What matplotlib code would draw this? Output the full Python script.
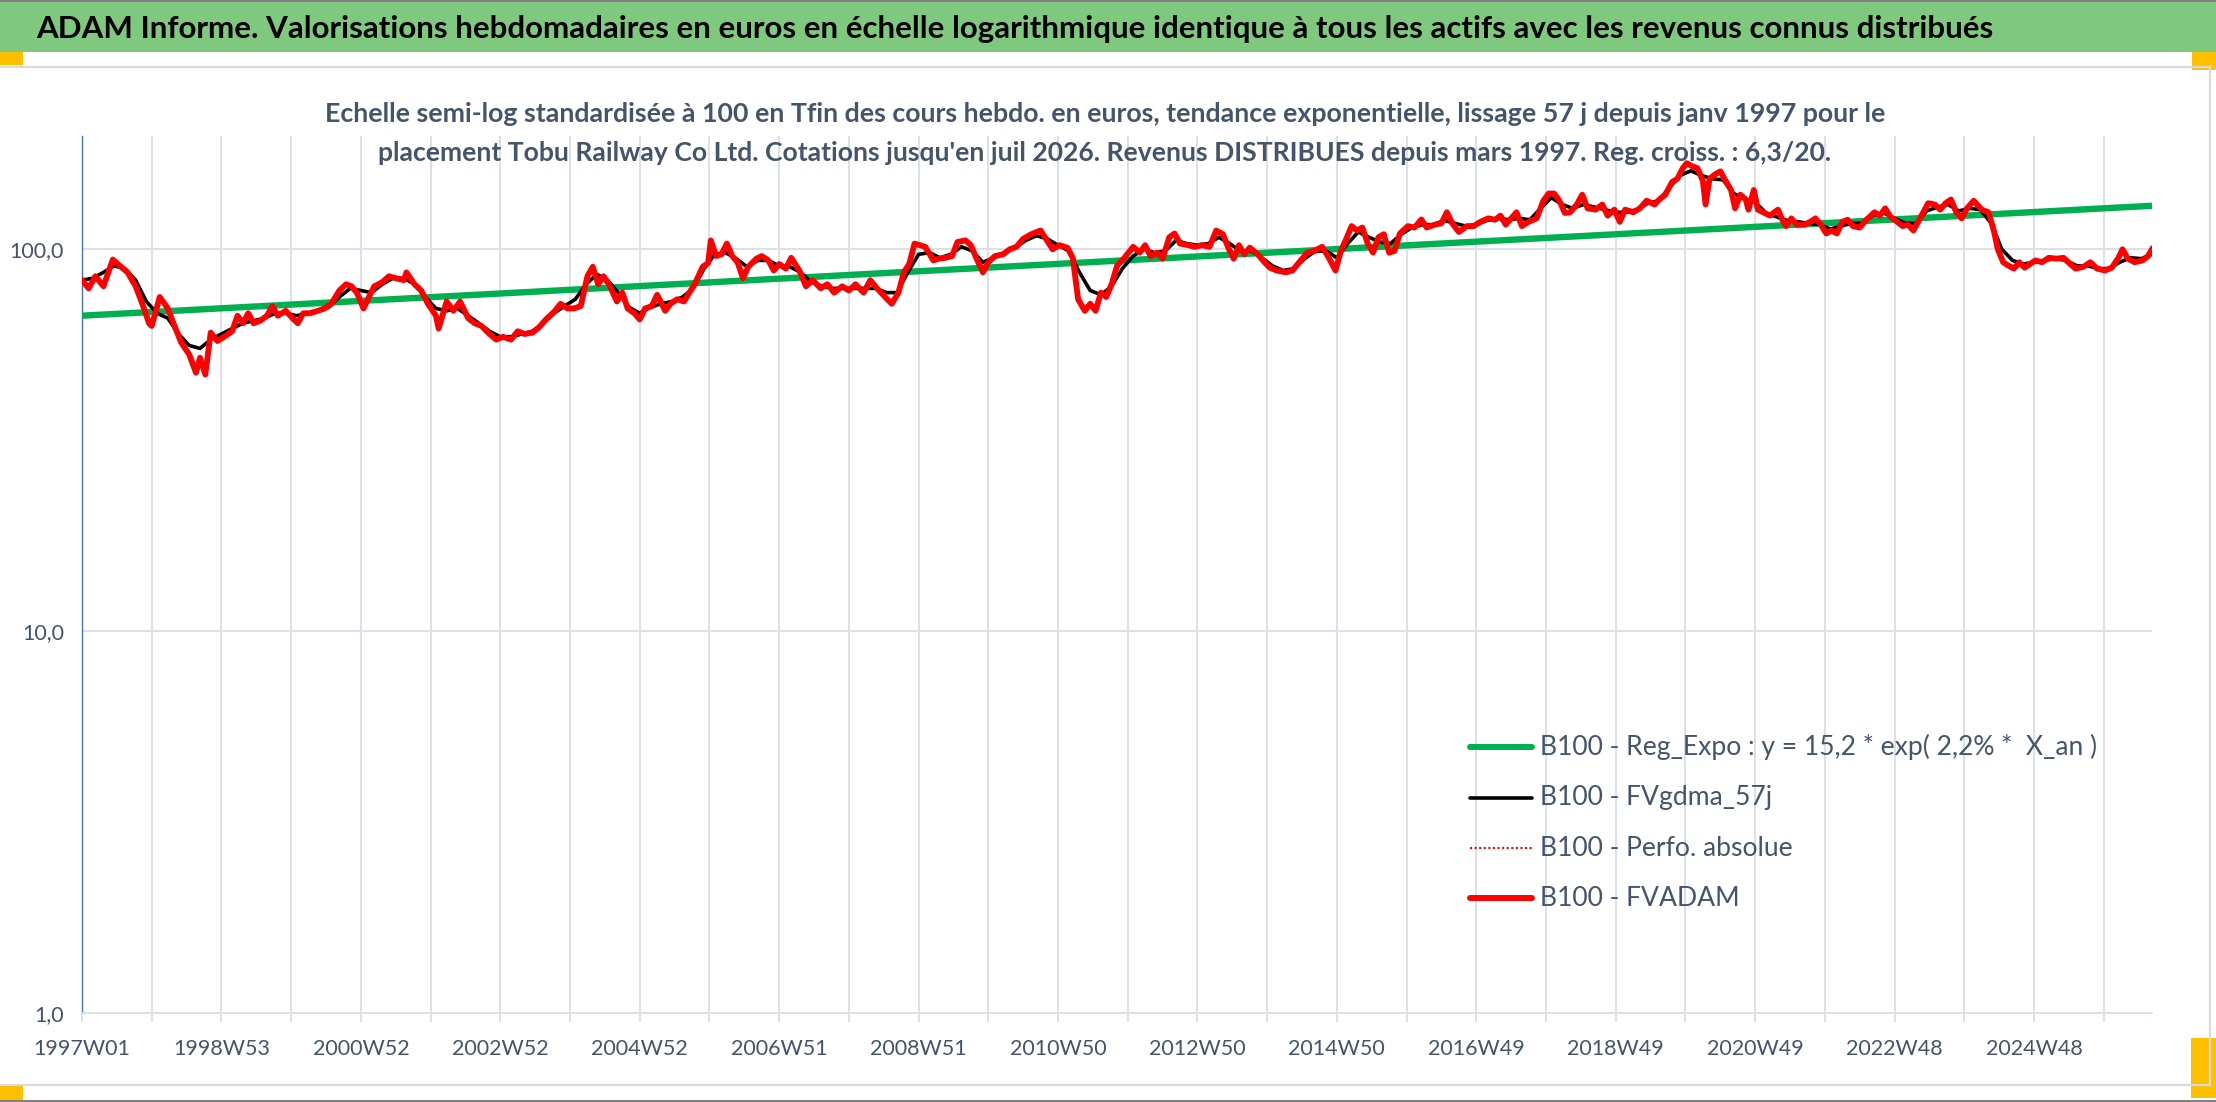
import numpy as np
import matplotlib
matplotlib.use("Agg")
import matplotlib.pyplot as plt
from matplotlib.patches import Rectangle
from matplotlib.ticker import NullLocator

# ---------------- data (x = week index since 1997W01) ----------------
tick_labels = ["1997W01", "1998W53", "2000W52", "2002W52", "2004W52", "2006W51",
               "2008W51", "2010W50", "2012W50", "2014W50", "2016W49", "2018W49",
               "2020W49", "2022W48", "2024W48"]
n_weeks_last = 1544

# Reg_Expo: y = 15,2 * exp(2,2% * X_an) -> values at the first and last week
reg_weeks = [0, 1544]
reg_vals = [67.0, 130.0]

# FVADAM (red)
fv_weeks_a = [0, 5, 10, 16, 23, 29, 34, 40, 45, 50,
              52, 58, 64, 69, 74, 80, 85, 88, 92, 96,
              101, 106, 112, 116, 120, 124, 128, 133, 138, 142,
              146, 152, 157, 161, 165, 170, 176, 181, 186, 192,
              197, 201, 205, 210, 214, 218, 224, 229, 234, 240,
              242, 248, 253, 258, 264, 266, 272, 277, 282, 288,
              293, 298, 304, 309, 314, 320, 325, 330, 336, 341,
              346, 352, 357, 362, 367, 372, 377, 381]
fv_vals_a = [83, 79, 85, 80, 94, 90, 87, 80, 72, 64,
             63, 75, 70, 63, 57, 53, 47.5, 52, 47, 60.5,
             57.5, 59, 61, 67, 64, 68, 64, 65, 67, 71,
             67, 69, 66, 64, 68, 68, 69, 70, 72, 78,
             81, 80, 77, 70, 75, 80, 82, 85, 84, 83,
             87, 81, 78, 72, 67, 62, 73, 69, 73, 66,
             64, 63, 60, 58, 59, 58, 61, 60, 60.5, 62.5,
             65.5, 68.5, 72, 70, 70, 71, 85, 90]

fv_weeks_b = [385, 389, 393, 399, 403, 407, 412, 416, 420, 425,
              429, 435, 439, 444, 449, 453, 457, 463, 467, 469,
              473, 477, 481, 485, 489, 493, 497, 503, 507, 512,
              516, 520, 525, 529, 535, 540, 545, 551, 556, 561,
              567, 572, 577, 583, 588, 593, 599, 604, 609, 613,
              617, 621, 625, 629, 635, 639, 644, 649, 653, 659,
              663, 667, 672, 676, 681, 687, 692, 697, 702, 708,
              715, 719, 724, 729, 735, 739, 743, 748, 752, 756,
              760, 764, 768, 772, 777, 784, 789]
fv_vals_b = [81, 85, 81, 73, 77, 70, 68, 65.5, 70, 71,
             76, 69, 72, 74, 73, 77, 81, 90, 92, 105.5,
             96, 97, 103.5, 96, 92.5, 84, 90, 94.5, 96, 93.5,
             88, 91.5, 89, 95, 88, 80, 83, 79, 81, 77,
             80, 78, 81, 77, 83, 79, 75, 72, 77, 87,
             91.5, 103.5, 102.5, 101.5, 93.5, 94.5, 95, 96, 104.5, 105.5,
             102.5, 95, 87, 92.5, 96, 97, 100, 101.5, 106.5, 109.5,
             112, 106.5, 100, 102.5, 101, 95, 74, 69, 72, 69,
             77, 75, 81, 90.5, 94.5, 101.5, 98]

fv_weeks_c = [793, 797, 802, 806, 811, 815, 819, 825, 830, 835,
              841, 846, 851, 855, 859, 863, 867, 871, 877, 882,
              886, 891, 898, 903, 909, 914, 919, 925, 930, 935,
              939, 943, 947, 951, 955, 959, 963, 967, 971, 975,
              979, 983, 989, 994, 999, 1003, 1009, 1014, 1018, 1022,
              1027, 1033, 1038, 1043, 1049, 1054, 1058, 1062, 1066, 1070,
              1074, 1079, 1085, 1090, 1094, 1098, 1102, 1106, 1110, 1115,
              1119, 1123, 1129, 1134, 1138, 1143, 1147, 1151, 1157, 1162,
              1167, 1173, 1177]
fv_vals_c = [102.5, 96, 98, 94.5, 107.5, 110, 103.5, 102.5, 101.5, 102.5,
             101.5, 112, 109.5, 101, 94.5, 102.5, 97, 101, 97, 92.5,
             89.5, 88, 87, 88, 93.5, 98, 99, 101.5, 95, 88,
             99, 106.5, 115, 112, 114, 103.5, 98, 107.5, 109.5, 98,
             99, 110, 115, 114, 119.7, 114, 116, 117, 125, 117,
             111, 115, 115, 118, 120.5, 119.5, 122.5, 116, 120.5, 125,
             115, 118, 120.5, 134, 140, 140, 134, 124.5, 125, 131,
             139, 128, 127, 131, 122.5, 127, 118, 127, 125, 128,
             134, 131, 135.5]

fv_weeks_d = [1181, 1186, 1190, 1194, 1197, 1201, 1205, 1209, 1211, 1214,
              1218, 1222, 1226, 1230, 1233, 1237, 1241, 1243, 1247, 1250,
              1254, 1259, 1265, 1269, 1271, 1275, 1279, 1285, 1289, 1293,
              1297, 1301, 1305, 1309, 1313, 1317, 1321, 1326, 1331, 1337,
              1341, 1345, 1349, 1354, 1358, 1362, 1366, 1371, 1377, 1382,
              1386, 1390, 1394, 1398, 1402, 1406, 1411, 1417, 1422, 1426,
              1429, 1433, 1436, 1441, 1445, 1449, 1453, 1457, 1462, 1467,
              1473, 1478, 1483, 1487, 1493, 1498, 1503, 1509, 1514, 1519,
              1522, 1526, 1531, 1537, 1541, 1544]
fv_vals_d = [139, 150, 153, 163, 168, 165, 163, 151, 131, 153,
             157, 160, 151, 143, 128, 139, 135, 127, 143, 127,
             125, 122.5, 127, 118, 115, 120.5, 116, 116, 118, 120.5,
             116, 110, 112, 110, 118, 119.5, 115, 114, 119.5, 125,
             122.5, 128, 121.5, 118, 115, 116, 112, 120.5, 132, 131,
             127, 132, 135, 125, 120.5, 128, 134, 127, 125, 112,
             100, 92.5, 91, 89, 92.5, 89.5, 91.5, 93.5, 92.5, 95,
             94.5, 95, 91.5, 89, 90, 92.5, 89, 88, 89.5, 95,
             100, 94.5, 92.5, 93.5, 96, 100]

# FVgdma_57j (black, smoothed), one value every 8 weeks from week 0
gdma_step = 8
gdma_vals = [83, 84, 87, 90.5, 89, 83, 73, 68, 66, 60,
             56, 55, 58, 60, 62, 64, 65, 66, 68, 68,
             67, 68, 69, 70.5, 75, 79, 78, 77, 81, 84,
             84, 81, 75, 70, 69, 70, 67, 64, 61, 59,
             59, 60, 61, 64, 68, 71, 74, 81, 86, 83,
             77, 70.5, 68, 70.5, 72, 73, 75, 79, 89, 97,
             98, 94.5, 90, 93.5, 93.5, 90.5, 90, 87, 82, 80,
             79, 79, 79, 79, 79, 77, 77, 87, 97, 98,
             95, 97, 101.5, 99, 92.5, 95, 98, 101, 105.5, 108.5,
             106.5, 102.5, 99, 87, 78, 76, 80, 89, 96, 100,
             98, 99, 105.5, 103.5, 102.5, 103.5, 107.5, 103.5, 99, 99,
             95, 90.5, 88, 89, 94.5, 99, 99, 95, 103.5, 111,
             107.5, 104.5, 103.5, 109.5, 114, 116, 116, 119, 117, 115,
             116, 119, 120.5, 119.5, 120.5, 119.5, 128, 136.5, 131, 128,
             131, 129, 127, 125, 125, 127, 132, 134, 145, 156,
             160.5, 156, 153, 152, 140, 135.5, 133, 124.5, 121.5, 119,
             118, 117, 116, 113, 115, 117, 117, 122.5, 124.5, 120.5,
             117, 117, 126, 129, 131, 126, 128, 127, 117, 100,
             93.5, 91.5, 92.5, 93.5, 94.5, 93.5, 90.5, 90.5, 89, 89,
             92.5, 95, 94.5, 97]

legend_labels = ["B100 - Reg_Expo : y = 15,2 * exp( 2,2% *  X_an )",
                 "B100 - FVgdma_57j",
                 "B100 - Perfo. absolue",
                 "B100 - FVADAM"]

title = ("ADAM Informe. Valorisations hebdomadaires en euros en échelle logarithmique "
         "identique à tous les actifs avec les revenus connus distribués")
sub1 = ("Echelle semi-log standardisée à 100 en Tfin des cours hebdo. en euros, tendance "
        "exponentielle, lissage 57 j depuis janv 1997 pour le")
sub2 = ("placement Tobu Railway Co Ltd. Cotations jusqu'en juil 2026. Revenus DISTRIBUES "
        "depuis mars 1997. Reg. croiss. : 6,3/20.")

# ---------------- assemble ----------------
fv_weeks = np.array(fv_weeks_a + fv_weeks_b + fv_weeks_c + fv_weeks_d)
fv_vals = np.array(fv_vals_a + fv_vals_b + fv_vals_c + fv_vals_d)
gdma_weeks = np.arange(len(gdma_vals)) * gdma_step

# ---------------- figure ----------------
W, H = 2216, 1102
plt.rcParams['font.family'] = ['Lato', 'DejaVu Sans']
fig = plt.figure(figsize=(W / 100, H / 100), dpi=100, facecolor='white')

GRID = '#DCE1E9'
TXT = '#44546A'
GREEN = '#00B050'
RED = '#FF0000'

ax_l, ax_r, ax_t, ax_b = 82, 2152, 136, 1013
ax = fig.add_axes([ax_l / W, 1 - ax_b / H, (ax_r - ax_l) / W, (ax_b - ax_t) / H])
ax.set_facecolor('white')
ax.set_yscale('log')

ax.plot(reg_weeks, reg_vals, color=GREEN, lw=4.6, solid_capstyle='butt', zorder=3)
ax.plot(gdma_weeks, gdma_vals, color='black', lw=2.6, zorder=4)
ax.plot(fv_weeks, fv_vals, color=RED, lw=1.2, ls=(0, (1, 1.5)), zorder=5)
ax.plot(fv_weeks, fv_vals, color=RED, lw=4.2, solid_joinstyle='round', zorder=6)

ax.set_xlim(0, n_weeks_last)
ax.set_ylim(1, 198)

major = np.arange(len(tick_labels)) * 104
minor = major + 52
ax.set_xticks(major)
ax.set_xticklabels(tick_labels)
ax.set_xticks(minor, minor=True)
ax.tick_params(axis='x', which='both', length=6.5, width=1.4, color=GRID,
               labelsize=15.5, labelcolor=TXT, pad=12)
ax.set_yticks([1, 10, 100])
ax.set_yticklabels(['1,0', '10,0', '100,0'])
ax.yaxis.set_minor_locator(NullLocator())
ax.tick_params(axis='y', which='both', length=0, labelsize=15.5, labelcolor=TXT, pad=13)
ax.grid(True, axis='x', which='both', color=GRID, lw=1.4)
ax.grid(True, axis='y', which='major', color=GRID, lw=1.4)
ax.set_axisbelow(True)
for s in ['top', 'right']:
    ax.spines[s].set_visible(False)
ax.spines['left'].set_color('#4472C4')
ax.spines['left'].set_linewidth(1.0)
ax.spines['bottom'].set_color(GRID)
ax.spines['bottom'].set_linewidth(1.4)

# ---------------- overlay (decorations, titles, legend) ----------------
ov = fig.add_axes([0, 0, 1, 1], zorder=10)
ov.set_xlim(0, W)
ov.set_ylim(H, 0)
ov.axis('off')
ov.patch.set_alpha(0)

ov.add_patch(Rectangle((0, 0), W, 52, facecolor='#7FC97F', edgecolor='none'))
ov.plot([0, W], [1, 1], color='#808080', lw=1.5)
ov.plot([0, W], [H - 1, H - 1], color='#808080', lw=1.5)
ov.plot([0, 2210], [67, 67], color='#DADADA', lw=1.6)
ov.plot([0, 2210], [1085, 1085], color='#DADADA', lw=1.6)
ov.plot([2210, 2210], [67, 1085], color='#DADADA', lw=1.6)
for (x0, y0, w0, h0) in [(0, 52, 23, 13), (2192, 52, 24, 18), (2191, 1038, 25, 60), (0, 1086, 23, 14)]:
    ov.add_patch(Rectangle((x0, y0), w0, h0, facecolor='#FFC000', edgecolor='none'))

r = fig.canvas.get_renderer()


def fit_width(t, target):
    for _ in range(3):
        w = t.get_window_extent(renderer=r).width
        t.set_fontsize(t.get_fontsize() * target / w)


t0 = ov.text(36, 29, title, fontsize=22, fontweight='bold', color='black',
             ha='left', va='center')
fit_width(t0, 1955)
t1 = ov.text(1105, 114, sub1, fontsize=17, fontweight='bold', color=TXT,
             ha='center', va='center')
fit_width(t1, 1566)
t2 = ov.text(1105, 153, sub2, fontsize=17, fontweight='bold', color=TXT,
             ha='center', va='center')
fit_width(t2, 1446)

# legend
rows_y = [747, 798, 848, 898]
styles = [dict(color=GREEN, lw=4.3, solid_capstyle='round'),
          dict(color='black', lw=2.6, solid_capstyle='round'),
          dict(color=RED, lw=1.5, ls=(0, (1, 1.2))),
          dict(color=RED, lw=4.3, solid_capstyle='round')]
lt = []
for yy, lab, st in zip(rows_y, legend_labels, styles):
    ov.plot([1470, 1532], [yy, yy], **st)
    lt.append(ov.text(1540, yy, lab, fontsize=18, color=TXT, ha='left', va='center'))
fit_width(lt[0], 556)
for t in lt[1:]:
    t.set_fontsize(lt[0].get_fontsize())

fig.savefig('out.png', dpi=100, facecolor='white')
